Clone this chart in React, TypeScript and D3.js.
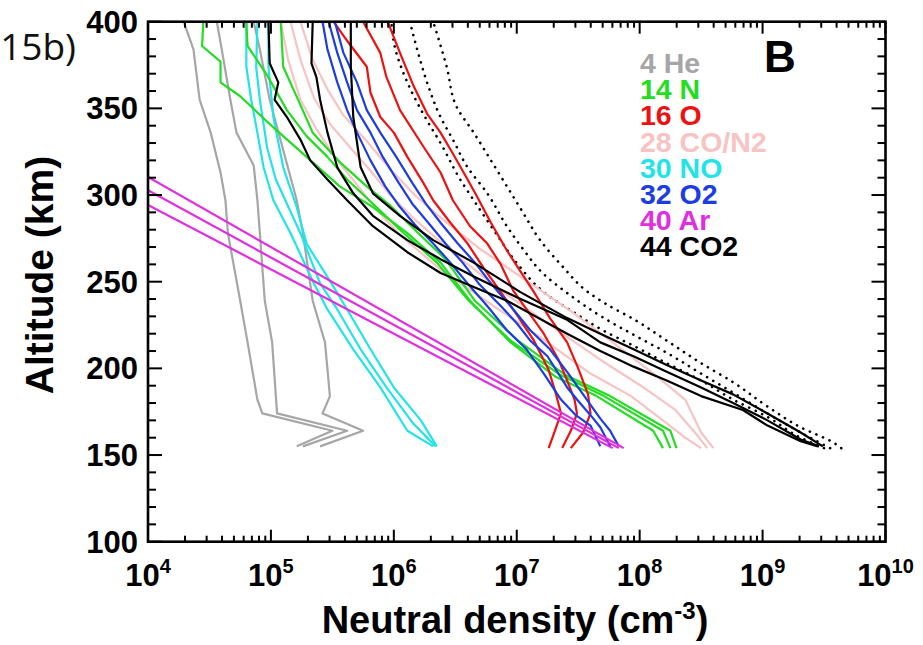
import React from "react";
import * as d3 from "d3";

// ---------- data: each profile is a list of [altitude km, log10 density cm^-3] ----------
type Pt = [number, number];

const heliumProfiles: Pt[][] = [
  [[155,5.21],[164,5.50],[174,4.93],[182,4.89],[215,4.81],[239,4.75],[278,4.65],[297,4.63],[313,4.59],[336,4.51],[355,4.42],[384,4.37],[400,4.29]],
  [[155,5.26],[164,5.62],[174,5.05],[215,5.01],[239,4.95],[278,4.91],[297,4.89],[317,4.86],[336,4.72],[355,4.67],[384,4.60],[400,4.56]],
  [[155,5.40],[164,5.75],[174,5.42],[184,5.48],[215,5.44],[239,5.34],[278,5.26],[297,5.21],[326,5.10],[355,4.99],[384,4.91],[400,4.86]],
];
const nitrogenProfiles: Pt[][] = [
  [[154,8.19],[164,8.11],[184,7.65],[195,7.32],[215,6.95],[239,6.62],[261,6.38],[278,6.11],[293,5.83],[305,5.56],[322,5.29],[339,5.02],[357,4.75],[365,4.59],[377,4.59],[386,4.44],[400,4.45]],
  [[154,8.25],[164,8.19],[184,7.71],[196,7.36],[216,6.95],[239,6.61],[261,6.35],[280,6.05],[295,5.83],[309,5.62],[322,5.46],[334,5.29],[349,5.13],[369,4.97],[386,4.81],[400,4.80]],
  [[154,8.30],[164,8.25],[184,7.76],[196,7.40],[216,7.01],[239,6.66],[263,6.42],[280,6.17],[294,5.97],[305,5.78],[319,5.56],[336,5.34],[352,5.24],[374,5.10],[400,5.08]],
];
const oxygenProfiles: Pt[][] = [
  [[154,7.26],[164,7.31],[174,7.36],[185,7.32],[199,7.26],[216,7.14],[230,7.01],[244,6.87],[258,6.73],[272,6.60],[284,6.46],[297,6.32],[307,6.24],[322,6.11],[336,6.00],[345,5.89],[359,5.81],[374,5.78],[389,5.62],[400,5.51]],
  [[154,7.37],[164,7.44],[174,7.49],[182,7.47],[193,7.41],[205,7.34],[220,7.22],[233,7.09],[245,6.97],[260,6.87],[272,6.76],[282,6.62],[297,6.48],[313,6.38],[328,6.24],[349,6.05],[368,5.94],[382,5.89],[400,5.75]],
  [[154,7.44],[163,7.54],[174,7.60],[185,7.58],[200,7.50],[215,7.41],[229,7.27],[244,7.14],[256,7.03],[268,6.92],[284,6.79],[300,6.67],[309,6.60],[324,6.48],[336,6.38],[347,6.27],[363,6.16],[382,6.05],[400,5.95]],
];
const coN2Profiles: Pt[][] = [
  [[154,8.50],[160,8.37],[171,8.17],[184,7.93],[197,7.60],[218,7.19],[237,6.79],[257,6.38],[277,6.05],[294,5.83],[306,5.70],[320,5.54],[338,5.37],[355,5.24],[378,5.14],[400,5.08]],
  [[154,8.55],[163,8.45],[176,8.29],[190,8.01],[205,7.68],[225,7.27],[245,6.87],[268,6.46],[286,6.17],[300,5.97],[314,5.81],[327,5.65],[341,5.48],[356,5.35],[378,5.24],[400,5.16]],
  [[154,8.60],[163,8.50],[182,8.37],[196,8.13],[214,7.80],[233,7.44],[251,7.07],[269,6.70],[287,6.38],[300,6.17],[315,5.97],[331,5.78],[346,5.59],[361,5.46],[378,5.34],[400,5.24]],
];
const noProfiles: Pt[][] = [
  [[155,6.32],[164,6.11],[189,5.89],[211,5.67],[234,5.46],[249,5.35],[278,5.16],[297,5.02],[316,4.94],[336,4.89],[355,4.84],[374,4.80],[400,4.80]],
  [[155,6.34],[168,6.16],[189,5.94],[211,5.73],[234,5.54],[249,5.40],[278,5.24],[295,5.13],[309,5.04],[327,4.97],[355,4.91],[374,4.88],[400,4.89]],
  [[155,6.35],[170,6.22],[189,6.00],[211,5.81],[234,5.62],[247,5.51],[272,5.29],[293,5.21],[316,5.10],[345,5.02],[374,4.98],[400,4.98]],
];
const o2Profiles: Pt[][] = [
  [[155,7.68],[167,7.60],[173,7.48],[182,7.36],[197,7.22],[211,7.08],[222,6.92],[236,6.76],[249,6.60],[261,6.46],[272,6.32],[283,6.17],[294,6.04],[305,5.93],[320,5.81],[336,5.70],[349,5.62],[365,5.54],[384,5.46],[400,5.42]],
  [[155,7.76],[166,7.68],[173,7.60],[182,7.49],[189,7.41],[207,7.25],[216,7.11],[226,7.00],[236,6.87],[249,6.69],[261,6.56],[272,6.42],[284,6.28],[295,6.15],[307,6.04],[322,5.91],[336,5.81],[349,5.70],[365,5.62],[382,5.54],[400,5.47]],
  [[155,7.83],[164,7.76],[171,7.68],[182,7.57],[197,7.42],[211,7.27],[222,7.11],[236,6.95],[249,6.79],[261,6.66],[272,6.52],[284,6.38],[295,6.26],[307,6.15],[322,6.02],[336,5.89],[349,5.78],[365,5.70],[382,5.59],[400,5.52]],
];
const argonProfiles: Pt[][] = [
  [[154,7.78],[294.3,4.0]],
  [[154,7.83],[302.8,4.0]],
  [[154,7.87],[310.4,4.0]],
];
const co2Profiles: Pt[][] = [
  [[155,9.45],[158,9.31],[167,9.04],[176,8.84],[184,8.50],[193,8.22],[201,7.95],[210,7.68],[220,7.41],[239,6.92],[247,6.65],[255,6.38],[267,6.11],[282,5.83],[297,5.62],[309,5.46],[320,5.32],[332,5.24],[345,5.13],[355,5.03],[365,5.06],[376,4.99],[400,4.98]],
  [[155,9.46],[159,9.31],[170,9.04],[180,8.76],[189,8.50],[198,8.22],[207,7.95],[215,7.68],[228,7.41],[241,7.00],[253,6.65],[263,6.38],[274,6.11],[288,5.83],[301,5.67],[316,5.54],[336,5.46],[355,5.40],[368,5.37],[376,5.33],[400,5.34]],
  [[155,9.49],[163,9.31],[174,9.04],[185,8.76],[193,8.50],[202,8.22],[211,7.95],[220,7.68],[229,7.41],[244,7.03],[261,6.65],[274,6.32],[288,6.05],[301,5.83],[316,5.73],[345,5.67],[374,5.65],[400,5.65]],
];
const totalProfiles: Pt[][] = [
  [[154,9.50],[160,9.31],[172,9.04],[182,8.76],[193,8.50],[203,8.22],[213,7.95],[222,7.70],[232,7.47],[244,7.22],[259,7.02],[278,6.83],[297,6.65],[309,6.54],[330,6.38],[343,6.27],[365,6.11],[388,6.00],[400,5.98]],
  [[154,9.55],[163,9.31],[174,9.04],[186,8.76],[197,8.50],[209,8.22],[219,7.96],[229,7.71],[244,7.40],[255,7.21],[268,7.06],[282,6.92],[301,6.76],[316,6.60],[332,6.48],[345,6.38],[365,6.27],[384,6.19],[400,6.13]],
  [[154,9.64],[157,9.58],[166,9.31],[178,9.04],[192,8.76],[203,8.50],[216,8.22],[228,7.96],[237,7.73],[244,7.58],[259,7.37],[274,7.19],[290,7.05],[305,6.92],[320,6.79],[336,6.65],[351,6.51],[374,6.43],[400,6.32]],
];

const legendLabels = ["4 He", "14 N", "16 O", "28 CO/N2", "30 NO", "32 O2", "40 Ar", "44 CO2"];
const legendColors = ["#a6a6a6", "#22dd22", "#ee1111", "#f7c3c3", "#22e4e8", "#1c3de4", "#e02ee0", "#000000"];
const yTickValues = [100, 150, 200, 250, 300, 350, 400];
const xTickExponents = [4, 5, 6, 7, 8, 9, 10];

// draw order (back to front)
const seriesOrder: { profiles: Pt[][]; color: string; dotted?: boolean; smooth?: boolean }[] = [
  { profiles: totalProfiles, color: "#000000", dotted: true, smooth: true },
  { profiles: coN2Profiles, color: legendColors[3] },
  { profiles: heliumProfiles, color: legendColors[0] },
  { profiles: noProfiles, color: legendColors[4] },
  { profiles: nitrogenProfiles, color: legendColors[1] },
  { profiles: oxygenProfiles, color: legendColors[2] },
  { profiles: o2Profiles, color: legendColors[5] },
  { profiles: argonProfiles, color: legendColors[6] },
  { profiles: co2Profiles, color: legendColors[7] },
];

const FONT = "'Liberation Sans', Arial, Helvetica, sans-serif";

export default function App() {
  const left = 148, right = 885.5, top = 21.7, bottom = 541.7;
  const x = d3.scaleLog().domain([1e4, 1e10]).range([left, right]);
  const y = d3.scaleLinear().domain([100, 400]).range([bottom, top]);
  const line = d3
    .line<Pt>()
    .x((d) => x(Math.pow(10, d[1])))
    .y((d) => y(d[0]));
  const smoothLine = d3
    .line<Pt>()
    .x((d) => x(Math.pow(10, d[1])))
    .y((d) => y(d[0]))
    .curve(d3.curveMonotoneY);

  const yMinor = d3.range(100, 401, 10);
  const xMinor: number[] = [];
  for (let e = 4; e < 10; e++) for (let m = 2; m <= 9; m++) xMinor.push(m * Math.pow(10, e));

  const ax = "#000";
  return (
    <svg width={923} height={645} style={{ position: "absolute", left: 0, top: 0, background: "#fff" }}>
      <rect x={0} y={0} width={923} height={645} fill="#fff" />
      <defs>
        <clipPath id="plotClip">
          <rect x={left} y={top} width={right - left} height={bottom - top} />
        </clipPath>
      </defs>
      <text x={76} y={60} textAnchor="end" fontFamily="'Open Sans', 'DejaVu Sans', sans-serif" fontSize={37} fill="#111">
        15b)
      </text>

      <g clipPath="url(#plotClip)" fill="none" strokeLinejoin="round">
        {seriesOrder.map((s, i) =>
          s.profiles.map((p, j) => (
            <path
              key={`${i}-${j}`}
              d={(s.smooth ? smoothLine(p) : line(p)) || ""}
              stroke={s.color}
              strokeWidth={s.dotted ? 2.6 : 2.2}
              strokeDasharray={s.dotted ? "0.1 7" : undefined}
              strokeLinecap={s.dotted ? "round" : "butt"}
            />
          ))
        )}
      </g>

      {/* ticks */}
      <g stroke={ax} strokeWidth={2}>
        {yMinor.map((v) => {
          const major = v % 50 === 0;
          const len = major ? 14 : 8;
          return (
            <g key={"yt" + v}>
              <line x1={left} x2={left + len} y1={y(v)} y2={y(v)} />
              <line x1={right} x2={right - len} y1={y(v)} y2={y(v)} />
            </g>
          );
        })}
        {xMinor.map((v) => (
          <g key={"xm" + v}>
            <line x1={x(v)} x2={x(v)} y1={bottom} y2={bottom - 6} />
            <line x1={x(v)} x2={x(v)} y1={top} y2={top + 6} />
          </g>
        ))}
        {xTickExponents.map((e) => (
          <g key={"xM" + e}>
            <line x1={x(Math.pow(10, e))} x2={x(Math.pow(10, e))} y1={bottom} y2={bottom - 12} />
            <line x1={x(Math.pow(10, e))} x2={x(Math.pow(10, e))} y1={top} y2={top + 12} />
          </g>
        ))}
      </g>
      <rect x={left} y={top} width={right - left} height={bottom - top} fill="none" stroke={ax} strokeWidth={2.6} />

      {/* tick labels */}
      <g fontFamily={FONT} fontWeight="bold" fontSize={31} fill="#000">
        {yTickValues.map((v) => (
          <text key={"yl" + v} x={138} y={y(v) + 11} textAnchor="end">
            {v}
          </text>
        ))}
        {xTickExponents.map((e) => (
          <text key={"xl" + e} x={x(Math.pow(10, e))} y={586} textAnchor="middle">
            <tspan>10</tspan>
            <tspan fontSize={20} dy={-13}>{e}</tspan>
          </text>
        ))}
      </g>

      {/* axis titles */}
      <text x={515} y={633} textAnchor="middle" fontFamily={FONT} fontWeight="bold" fontSize={38} fill="#000">
        Neutral density (cm<tspan fontSize={24} dy={-14}>-3</tspan><tspan dy={14}>)</tspan>
      </text>
      <text transform="translate(53,275) rotate(-90)" textAnchor="middle" fontFamily={FONT} fontWeight="bold" fontSize={39} fill="#000">
        Altitude (km)
      </text>

      {/* legend */}
      <g fontFamily={FONT} fontWeight="bold" fontSize={28.5}>
        {legendLabels.map((l, i) => (
          <text key={l} x={640} y={73 + i * 26.2} fill={legendColors[i]}>
            {l}
          </text>
        ))}
      </g>
      <text x={764} y={72} fontFamily={FONT} fontWeight="bold" fontSize={44} fill="#000">
        B
      </text>
    </svg>
  );
}
